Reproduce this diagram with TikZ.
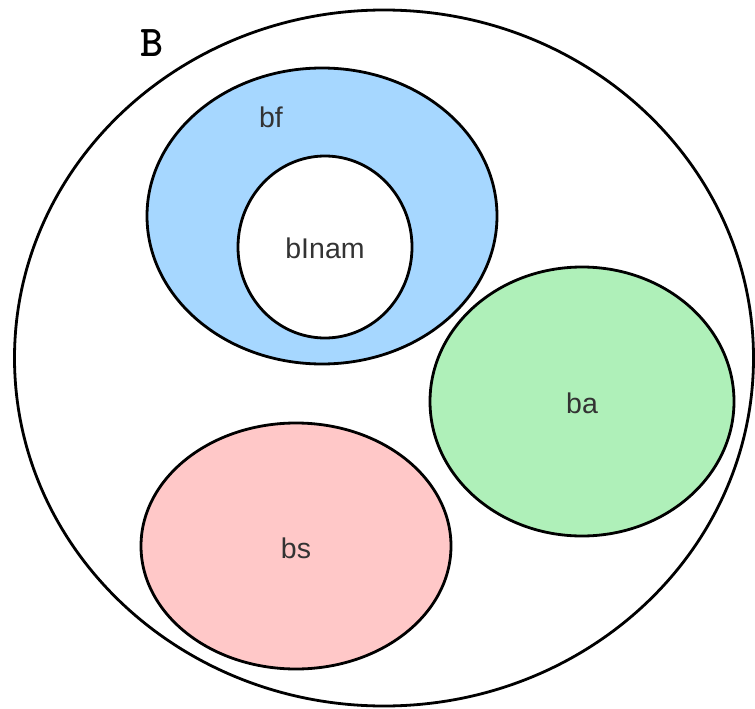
\documentclass[tikz,border=0pt]{standalone}
\usepackage{fontspec}
\setmainfont{Liberation Sans}
\usetikzlibrary{shapes.geometric}
\definecolor{bfblue}{RGB}{166,215,255}
\definecolor{bagreen}{RGB}{175,240,185}
\definecolor{bspink}{RGB}{255,200,200}
\definecolor{labelgray}{RGB}{51,51,51}
\tikzset{
  setshape/.style={ellipse, draw=black, line width=2.8pt, inner sep=0pt},
  setlabel/.style={text=labelgray, font=\fontsize{28.5}{30}\selectfont, inner sep=0pt}
}
\begin{document}
\begin{tikzpicture}[x=1pt, y=-1pt]
  \useasboundingbox (0,0) rectangle (755,709);
  % universe B
  \node[setshape, fill=white, minimum width=739pt, minimum height=696pt] (B) at (384,358) {};
  \node[text=black, font=\ttfamily\bfseries\fontsize{44}{44}\selectfont, inner sep=0pt] (Blabel) at (152,43) {B};
  % bf with the hole bInam
  \node[setshape, fill=bfblue, minimum width=350pt, minimum height=296pt] (bf) at (322,216) {};
  \node[setlabel] (bflabel) at (271,117) {bf};
  \node[setshape, fill=white, minimum width=174pt, minimum height=182pt] (bInam) at (325,247) {};
  \node[setlabel] (bInamlabel) at (325,248) {bInam};
  % ba
  \node[setshape, fill=bagreen, minimum width=304pt, minimum height=269pt] (ba) at (582,401.5) {};
  \node[setlabel] (balabel) at (582,403) {ba};
  % bs
  \node[setshape, fill=bspink, minimum width=310pt, minimum height=246pt] (bs) at (296,546) {};
  \node[setlabel] (bslabel) at (296,548) {bs};
\end{tikzpicture}
\end{document}
